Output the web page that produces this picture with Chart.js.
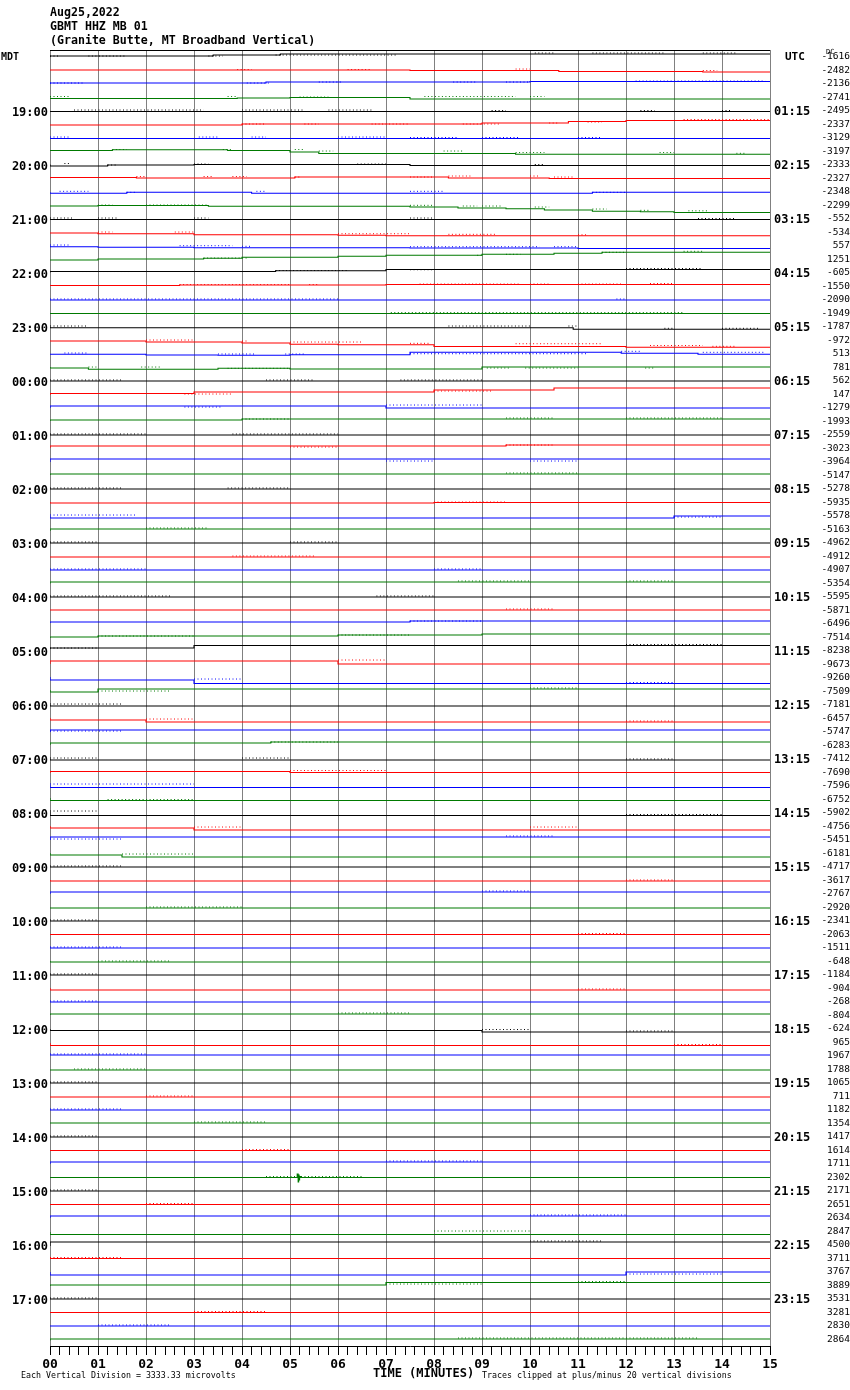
<!DOCTYPE html>
<html><head><meta charset="utf-8">
<script src="https://cdn.jsdelivr.net/npm/chart.js@4.4.1/dist/chart.umd.min.js"></script>
<style>html,body{margin:0;padding:0;background:#fff;}canvas{display:block;}</style>
</head><body>
<canvas id="c" width="850" height="1390"></canvas>
<script>
const titleLines = ['Aug25,2022', 'GBMT HHZ MB 01', '(Granite Butte, MT Broadband Vertical)'];
const minuteLabels = ['00','01','02','03','04','05','06','07','08','09','10','11','12','13','14','15'];
const localHourLabels = ['19:00','20:00','21:00','22:00','23:00','00:00','01:00','02:00','03:00','04:00','05:00','06:00','07:00','08:00','09:00','10:00','11:00','12:00','13:00','14:00','15:00','16:00','17:00'];
const utcHourLabels = ['01:15','02:15','03:15','04:15','05:15','06:15','07:15','08:15','09:15','10:15','11:15','12:15','13:15','14:15','15:15','16:15','17:15','18:15','19:15','20:15','21:15','22:15','23:15'];
const dcOffsets = [
 -1616,-2482,-2136,-2741, -2495,-2337,-3129,-3197, -2333,-2327,-2348,-2299,
 -552,-534,557,1251, -605,-1550,-2090,-1949, -1787,-972,513,781,
 562,147,-1279,-1993, -2559,-3023,-3964,-5147, -5278,-5935,-5578,-5163,
 -4962,-4912,-4907,-5354, -5595,-5871,-6496,-7514, -8238,-9673,-9260,-7509,
 -7181,-6457,-5747,-6283, -7412,-7690,-7596,-6752, -5902,-4756,-5451,-6181,
 -4717,-3617,-2767,-2920, -2341,-2063,-1511,-648, -1184,-904,-268,-804,
 -624,965,1967,1788, 1065,711,1182,1354, 1417,1614,1711,2302,
 2171,2651,2634,2847, 4500,3711,3767,3889, 3531,3281,2830,2864];
const footerLeft = 'Each Vertical Division = 3333.33 microvolts';
const footerMid = 'TIME (MINUTES)';
const footerRight = 'Traces clipped at plus/minus 20 vertical divisions';

// trace levels: [minute, offset in pixels (down positive)]
const traceLevels = [
 [[0,0],[3.4,-1],[4.8,-2],[10,-3]],
 [[0,0],[7.5,-0.5],[10.6,0],[13.6,1],[14.7,1.5]],
 [[0,0],[4.5,-1],[10,-2],[13,-2.5]],
 [[0,0],[3.9,1],[5,0.5],[7.5,0],[11,1.5]],
 [[0,0],[7.5,0.5]],
 [[0,0],[4,0.5],[9,-0.5],[10.8,-1.5],[12,-3],[13.2,-4]],
 [[0,0],[7.5,0.5]],
 [[0,-0.5],[1.3,-1],[3.7,-1.8],[5,-1],[5.6,0.5],[9.7,2],[14,2.8]],
 [[0,-0.5],[1.2,1],[3,0],[7.5,-0.5],[10.1,0.5]],
 [[0,0],[1.8,-1],[5.1,-0.5],[8.3,-1.5],[10.4,-0.5],[11,0]],
 [[0,0.3],[1.6,1.3],[4.2,0.3],[11.3,1.3],[12,0.3]],
 [[0,0],[1,0.5],[3.3,0],[7.5,0.8],[8.5,1.5],[9.5,2.5],[10.3,3.2],[11.3,4.5],[12.3,5.8],[13,6.3],[14,7]],
 [[0,0],[13.5,0.5]],
 [[0,0],[1,0.5],[3,1.2],[6,2.2],[7,2.8],[11,3.3]],
 [[0,0],[1,0.7],[3,1.3],[7.5,1.7],[11,2],[14,2.5]],
 [[0,0],[1,0.5],[3.2,-0.5],[4,-1.2],[6,-2.2],[7,-3.2],[9,-4.2],[10.5,-5.2],[11.5,-6.2],[13,-7.2]],
 [[0,-0.5],[4.7,-1.5],[7,-2.3],[12,-3.5]],
 [[0,-0.5],[2.7,-1],[7,-1.5],[12,-2]],
 [[0,0]],
 [[0,0]],
 [[0,0],[10.9,0.8],[12.8,2.3]],
 [[0,0],[2,0.5],[4,1.5],[5,2.5],[6,3.8],[8,4.2],[12,6],[13,6.8]],
 [[0,0],[2,0.3],[3.5,1],[5,1.3],[7.5,0.7],[11.9,-1.7],[13.5,-0.7],[14,0.3]],
 [[0,-0.5],[0.8,0.5],[3.5,1.8],[5,0.8],[9,1.5],[12.9,-0.5]],
 [[0,0]],
 [[0,0.5],[3,-1],[8,-2.5],[10.5,-4.5],[12,-6.5]],
 [[0,0],[7,-2],[9,0]],
 [[0,-0.5],[4,-1.5],[9.5,-2.5]],
 [[0,0]],
 [[0,-0.5],[9.5,-2.5],[12,-3.5]],
 [[0,0],[13,-3]],
 [[0,-0.5],[9.5,-1.5]],
 [[0,0]],
 [[0,-0.5],[8,0.5],[12,0]],
 [[0,0],[13,2],[14,0]],
 [[0,1.5],[2,-0.5]],
 [[0,0]],
 [[0,0.5]],
 [[0,0]],
 [[0,0],[8.5,-1.5]],
 [[0,0]],
 [[0,-0.5]],
 [[0,-1],[7.5,-2],[14,-3]],
 [[0,0.5],[1,-0.5],[6,-1.5],[9,-2.5],[11.5,-3.5]],
 [[0,-2],[3,-3],[12,-5.5]],
 [[0,-0.5],[6,-3.5],[7.5,-0.5]],
 [[0,-1],[3,2],[12,5.5]],
 [[0,-1.5],[1,0.5],[10,-2.5]],
 [[0,0],[10,1]],
 [[0,-0.5],[2,1.5],[12,3.5]],
 [[0,0],[14,-2]],
 [[0,-0.5],[4.6,-2.5],[12,-3.5]],
 [[0,0],[12,1]],
 [[0,0.5],[5,-1],[7,0]],
 [[0,-1],[3,1.5]],
 [[0,-1.5],[1.2,1]],
 [[0,-1],[12,2.5]],
 [[0,-0.5],[3,1.5],[13.5,3.5]],
 [[0,0],[9.5,-3]],
 [[0,-0.5],[1.5,1.5],[11,3.5]],
 [[0,0]],
 [[0,-0.5],[12,0.5]],
 [[0,0],[9,-2]],
 [[0,0.5]],
 [[0,0]],
 [[0,0]],
 [[0,0]],
 [[0,-0.5],[1,0.5]],
 [[0,0]],
 [[0,-0.5],[11,1.5]],
 [[0,0]],
 [[0,-0.5],[6,-1.5]],
 [[0,0],[9,1.5],[12,3]],
 [[0,0.5],[13,3]],
 [[0,-1]],
 [[0,0.5]],
 [[0,0]],
 [[0,0.5]],
 [[0,0]],
 [[0,-0.5]],
 [[0,0]],
 [[0,0]],
 [[0,0],[7,-2]],
 [[0,0],[5.15,0],[5.17,-3.5],[5.18,4.5],[5.19,-2.5],[5.2,2.5],[5.22,-1],[5.24,0]],
 [[0,0]],
 [[0,0]],
 [[0,0],[10,-2]],
 [[0,0.5],[12,3]],
 [[0,1],[10,-3]],
 [[0,0]],
 [[0,0],[12,3],[14,0]],
 [[0,0.5],[7,-0.5],[11,-3]],
 [[0,0]],
 [[0,0]],
 [[0,0]],
 [[0,1],[7.5,-0.5]]
];

// noisy stretches: [start minute, end minute]
const traceFuzz = [
 [[0,0.2],[0.8,1.6],[3.3,3.6],[4.7,7.2],[10.1,10.5],[11.3,12.8],[13.6,14.3]],
 [[3.9,4.2],[6.2,6.7],[9.7,10],[13.6,13.9]],
 [[0,0.7],[4.1,4.6],[5.6,6.1],[8.4,8.9],[9.5,10],[12.2,14.9]],
 [[0,0.4],[3.7,3.9],[5.2,5.8],[7.8,9.7],[10,10.3]],
 [[0.5,3.2],[4,5.3],[5.8,6.7],[9.2,9.5],[12.3,12.6],[14,14.2]],
 [[4,4.5],[5.3,5.6],[6.7,7.5],[8.6,9.4],[10.4,10.6],[11.2,11.5],[13.2,15]],
 [[0,0.4],[3.1,3.5],[4.2,4.5],[6,7],[7.5,8.5],[9,9.8],[11,11.5]],
 [[1.3,1.6],[3.6,3.8],[5.1,5.3],[5.6,5.9],[8.2,8.6],[9.7,10.3],[12.7,13],[14.3,14.5]],
 [[0.3,0.4],[1.2,1.4],[3,3.3],[6.4,7],[10.1,10.3]],
 [[1.8,2],[3.2,3.4],[3.8,4.1],[5.1,5.2],[7.5,8],[8.3,8.8],[10,10.2],[10.5,10.9]],
 [[0.2,0.8],[1.6,1.8],[4.3,4.5],[7.5,8.2],[11.3,12]],
 [[1,1.3],[2,3.3],[7.5,8],[8.6,8.9],[9,9.4],[10.1,10.4],[11.3,11.6],[12.3,12.5],[13.3,13.7]],
 [[0,0.5],[1,1.4],[3,3.3],[7.5,8],[13.5,14.3]],
 [[1,1.3],[2.6,3],[6,7.5],[8.3,9.3],[11,11.2]],
 [[0,0.4],[2.7,3.8],[4,4.2],[7.5,10.2],[10.5,11]],
 [[3.2,4.1],[8.9,9],[9.5,9.8],[11.5,12],[13.2,13.6]],
 [[0.6,1.7],[4.7,6.2],[7.5,8],[12,13.6]],
 [[2.7,5],[5.4,5.6],[7.7,9.8],[10,10.4],[11,11.9],[12.5,13]],
 [[0,6],[11.8,12]],
 [[7.1,13.2]],
 [[0,0.8],[8.3,10],[10.8,11],[12.8,13],[14,14.8]],
 [[2,3],[4,4.1],[5,6.5],[7.5,7.9],[9.7,11.5],[12.5,13.6],[13.8,14.3]],
 [[0.3,0.8],[3.5,4.3],[4.9,5.3],[7.5,11.2],[11.9,12.3],[13.6,14.9]],
 [[0.8,1],[1.9,2.3],[3.7,5],[9.1,9.6],[9.9,11],[12.4,12.6]],
 [[0,1.5],[4.5,5.5],[7.3,9]],
 [[2.8,3.8],[8,9.2]],
 [[2.8,3.6],[7,9]],
 [[4,5],[9.5,10.5],[12,14]],
 [[0,2],[3.8,6]],
 [[5,6],[9.5,10.5]],
 [[7,8],[10,11]],
 [[9.5,11]],
 [[0,1.5],[3.7,5]],
 [[8,9.5]],
 [[0,1.8],[13,14]],
 [[2,3.3]],
 [[0,1],[5,6]],
 [[3.8,5.5]],
 [[0,2],[8,9]],
 [[8.5,10],[12,13]],
 [[0,2.5],[6.8,8]],
 [[9.5,10.5]],
 [[7.5,9]],
 [[1,3],[6,7.5]],
 [[0,1],[12,14]],
 [[6,7]],
 [[3,4],[12,13]],
 [[1,2.5],[10,11]],
 [[0,1.5]],
 [[2,3],[12,13]],
 [[0,1.5]],
 [[4.6,6]],
 [[0,1],[4,5],[12,13]],
 [[5,7]],
 [[0,3]],
 [[1.2,3]],
 [[0,1],[12,14]],
 [[3,4],[10,11]],
 [[0,1.5],[9.5,10.5]],
 [[1.5,3]],
 [[0,1.5]],
 [[12,13]],
 [[9,10]],
 [[2,4]],
 [[0,1]],
 [[11,12]],
 [[0,1.5]],
 [[1,2.5]],
 [[0,1]],
 [[11,12]],
 [[0,1]],
 [[6,7.5]],
 [[9,10],[12,13]],
 [[13,14]],
 [[0,2]],
 [[0.5,2]],
 [[0,1]],
 [[2,3]],
 [[0,1.5]],
 [[3,4.5]],
 [[0,1]],
 [[4,5]],
 [[7,9]],
 [[4.5,6.5]],
 [[0,1]],
 [[2,3]],
 [[10,12]],
 [[8,10]],
 [[10,11.5]],
 [[0,1.5]],
 [[12,14]],
 [[7,9],[11,12]],
 [[0,1]],
 [[3,4.5]],
 [[1,2.5]],
 [[8.5,13.5]]
];

const traceColors = ['#000000', '#ff0000', '#0000ff', '#007a00'];
const PX_PER_TRACE = 13.5;
const Y_MIN = -0.52, Y_MAX = 95.48;
const MONO = "'DejaVu Sans Mono', 'Liberation Mono', monospace";

function levelAt(levels, x) {
  let v = levels[0][1];
  for (const [m, o] of levels) { if (m <= x) v = o; }
  return v;
}

const datasets = [];
traceLevels.forEach((lv, i) => {
  const pts = lv.map(([m, o]) => ({ x: m, y: i + o / PX_PER_TRACE }));
  pts.push({ x: 15, y: pts[pts.length - 1].y });
  datasets.push({ data: pts, borderColor: traceColors[i % 4], borderWidth: 1.1, pointRadius: 0, stepped: 'after', fill: false });
});
traceFuzz.forEach((spans, i) => {
  if (!spans || !spans.length) return;
  const pts = [];
  spans.forEach(([s, e]) => {
    const y = i + (levelAt(traceLevels[i], s) - 1) / PX_PER_TRACE;
    pts.push({ x: s, y }, { x: e, y }, { x: e, y: null });
  });
  datasets.push({ data: pts, borderColor: traceColors[i % 4], borderWidth: 1, borderDash: [1, 2.5], pointRadius: 0, spanGaps: false, fill: false });
});

const traceTicks = s => { s.ticks = dcOffsets.map((_, i) => ({ value: i })); };
const isWhole = v => Math.abs(v - Math.round(v)) < 1e-6;

const textPlugin = {
  id: 'helicorderText',
  afterDraw(chart) {
    const ctx = chart.ctx;
    const a = chart.chartArea;
    ctx.save();
    ctx.strokeStyle = '#000'; ctx.lineWidth = 1;
    ctx.beginPath(); ctx.moveTo(a.left, a.top + 0.5); ctx.lineTo(a.right, a.top + 0.5); ctx.stroke();
    ctx.fillStyle = '#000';
    ctx.textBaseline = 'middle'; ctx.textAlign = 'left';
    ctx.font = 'bold 11.6px ' + MONO;
    titleLines.forEach((t, k) => ctx.fillText(t, 50, 13 + k * 14));
    ctx.font = 'bold 10px ' + MONO;
    ctx.fillText('MDT', 1, 57);
    ctx.font = 'bold 11px ' + MONO;
    ctx.fillText('UTC', 785, 57);
    ctx.font = '7px ' + MONO;
    ctx.fillText('DC', 826, 52);
    ctx.font = '8.3px ' + MONO;
    ctx.fillText(footerLeft, 21, 1376);
    ctx.fillText(footerRight, 482, 1376);
    ctx.font = 'bold 12px ' + MONO;
    ctx.fillText(footerMid, 373, 1374);
    ctx.restore();
  }
};

const yBase = {
  type: 'linear', min: Y_MIN, max: Y_MAX, reverse: true,
  afterBuildTicks: traceTicks,
  grid: { display: false, drawTicks: false },
  border: { display: false }
};

new Chart(document.getElementById('c'), {
  type: 'line',
  data: { datasets },
  options: {
    responsive: false, animation: false, devicePixelRatio: 1,
    layout: { padding: { left: 0, right: 0, top: 50, bottom: 14 } },
    plugins: { legend: { display: false }, tooltip: { enabled: false } },
    events: [],
    scales: {
      x: {
        type: 'linear', min: 0, max: 15, position: 'bottom',
        afterFit: s => { s.height = 30; },
        ticks: {
          stepSize: 0.2, autoSkip: false, maxRotation: 0, minRotation: 0, padding: 2, color: '#000',
          font: { family: MONO, weight: 'bold', size: 13 },
          callback: v => isWhole(v) ? minuteLabels[Math.round(v)] : ''
        },
        grid: {
          color: c => (c.tick && isWhole(c.tick.value)) ? '#808080' : 'rgba(0,0,0,0)',
          tickColor: '#000', tickLength: 9, lineWidth: 1
        },
        border: { color: '#000', width: 1 }
      },
      y: Object.assign({}, yBase, {
        position: 'left',
        afterFit: s => { s.width = 50; },
        ticks: {
          autoSkip: false, padding: 2, labelOffset: 1.5, color: '#000',
          font: { family: MONO, weight: 'bold', size: 12 },
          callback: v => (v > 0 && v % 4 === 0) ? localHourLabels[v / 4 - 1] : ''
        }
      }),
      yUTC: Object.assign({}, yBase, {
        position: 'right', weight: 1,
        afterFit: s => { s.width = 44; },
        ticks: {
          autoSkip: false, padding: 4, labelOffset: 1, color: '#000',
          font: { family: MONO, weight: 'bold', size: 12 },
          callback: v => (v > 0 && v % 4 === 0) ? utcHourLabels[v / 4 - 1] : ''
        }
      }),
      yDC: Object.assign({}, yBase, {
        position: 'right', weight: 2,
        afterFit: s => { s.width = 36; },
        ticks: {
          autoSkip: false, padding: 1, crossAlign: 'far', color: '#000',
          font: { family: MONO, size: 9.5 },
          callback: v => String(dcOffsets[v])
        }
      })
    }
  },
  plugins: [textPlugin]
});
</script>
</body></html>
